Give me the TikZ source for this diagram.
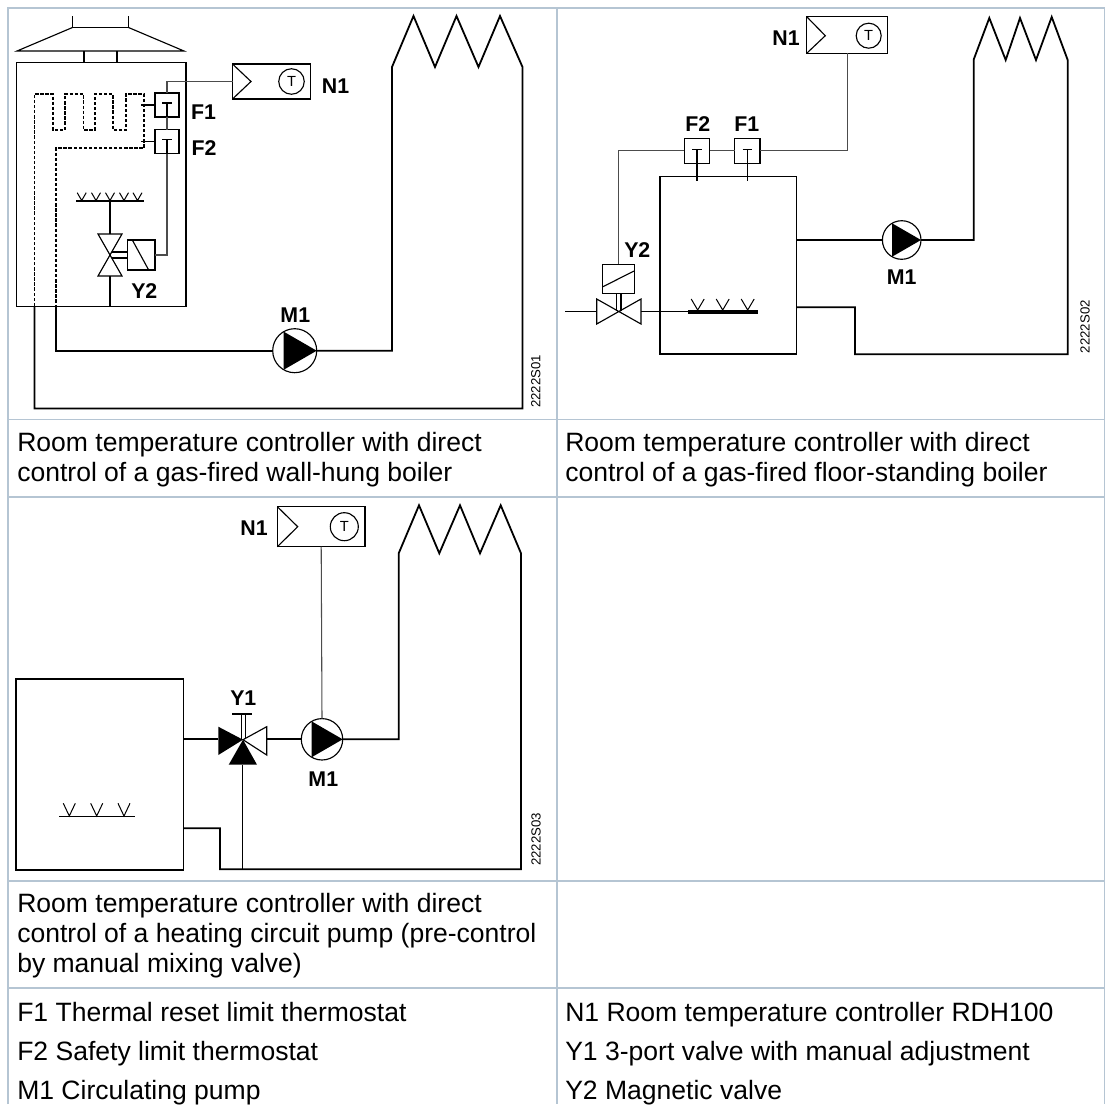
\documentclass[tikz,border=0pt]{standalone}
\usepackage{fontspec}
\usetikzlibrary{calc}
\setmainfont{Liberation Sans}
\definecolor{rulecol}{HTML}{B5C5D3}
\tikzset{
    rule/.style={draw=rulecol, line width=1.3pt},
    line/.style={draw=black, line width=0.85pt},
    pipe/.style={draw=black, line width=1.35pt},
    signal/.style={draw=black!70, line width=0.8pt},
    flame/.style={draw=black, line width=0.75pt},
    flue/.style={draw=black, line width=0.95pt, dash pattern=on 2.5pt off 1.3pt},
    boxsize/.style 2 args={minimum width=#1*0.75pt, minimum height=#2*0.75pt},
    plainbox/.style={line, rectangle, inner sep=0pt, outer sep=0pt, fill=white},
    pump/.style={line, circle, inner sep=0pt, outer sep=0pt, fill=white, minimum size=#1*0.75pt},
    sensor/.style={line, circle, inner sep=0pt, outer sep=0pt, minimum size=#1*0.75pt, font=\fontsize{11}{11}\selectfont},
    tag/.style={inner sep=0pt, font=\fontsize{16}{16}\selectfont\bfseries},
    code/.style={inner sep=0pt, rotate=90, font=\fontsize{9.9}{10}\selectfont},
    caption/.style={inner sep=0pt, anchor=north west, align=left, font=\fontsize{19.9}{22.5}\selectfont},
}
\begin{document}
\begin{tikzpicture}[x=0.75pt,y=-0.75pt]
    \useasboundingbox (0,0) rectangle (1107,1104);

    % table rules
    \draw[rule] (8,1104) -- (8,8) -- (1104.5,8) -- (1104.5,1104);
    \draw[rule] (556.7,8) -- (556.7,1104);
    \foreach \y in {419.5,497,881,988}
        \draw[rule] (8,\y) -- (1104.5,\y);

    % wall-hung boiler
    \draw[line] (72.5,16) -- (72.5,27.5) -- (128.5,27.5) -- (128.5,16);
    \draw[line] (72.5,27.5) -- (17,51) -- (184,51) -- (128.5,27.5);
    \node[plainbox, boxsize={169.5}{244}] (boilerA) at (101.25,184.5) {};
    \draw[line] (84,51) -- (84,62.5);
    \draw[line] (117,51) -- (117,62.5);

    \node[plainbox, boxsize={78}{35}] (ctrlA) at (271.5,81.5) {};
    \draw[line] (ctrlA.north west) -- (251,81.5) -- (ctrlA.south west);
    \node[sensor=25.5] (roomA) at (291.5,81.5) {T};
    \node[tag] (labelNA) at (335.5,85.7) {N1};

    \node[plainbox, boxsize={24}{24}] (limitA) at (167,105) {};
    \node[plainbox, boxsize={24}{24}] (safetyA) at (167,141.5) {};
    \node[tag] (labelFA) at (203.5,112.4) {F1};
    \node[tag] (labelFB) at (204,148.3) {F2};
    \node[plainbox, boxsize={27.5}{30}] (coilA) at (141.25,255) {};
    \draw[line] (132.7,240.7) -- (148.3,269.3);
    \node[tag] (labelYA) at (144.3,291) {Y2};

    \draw[signal] (ctrlA.west) -| (limitA.north);
    \draw[signal] (limitA.south) -- (safetyA.north);
    \draw[signal] (safetyA.south) |- (coilA.east);
    \foreach \n in {limitA,safetyA} {
        \draw[line] ($(\n.center)+(-4.7,-2)$) -- ($(\n.center)+(4.7,-2)$);
        \draw[line] ($(\n.center)+(0,-2)$) -- (\n.south);
    }
    \draw[line] (141,105) -- (limitA.west);
    \draw[line] (141,141.5) -- (safetyA.west);

    \draw[flue] (34.5,306) -- (34.5,94) -- (53,94) -- (53,130) -- (65,130) -- (65,94) -- (83.5,94) -- (83.5,130)
        -- (95,130) -- (95,94) -- (113,94) -- (113,130) -- (126,130) -- (126,94) -- (144,94) -- (144,148) -- (56,148) -- (56,306);

    \draw[line] (76,201) -- (144,201);
    \foreach \x in {81.7,96,110,124,137.5}
        \draw[flame] (\x-4.5,192.7) -- (\x,200.5) -- (\x+4.5,192.7);
    \draw[line] (98,234) -- (122,234) -- (98,276) -- (122,276) -- cycle;
    \draw[line] (110,201) -- (110,234);
    \draw[line] (110,276) -- (110,306.5);
    \draw[line] (112,252) -- (127.5,252);
    \draw[line] (112,258) -- (127.5,258);

    \node[pump=44] (pumpA) at (294.7,350.7) {};
    \node[tag] (labelMA) at (295.3,315) {M1};
    \coordinate (flowA) at (56,306.5);
    \coordinate (returnA) at (34.5,306.5);
    \draw[pipe] (flowA) |- (pumpA.west);
    \draw[pipe] (pumpA.east) -| (392,67) -- (413.5,16) -- (435,67) -- (456.5,16) -- (478.5,67) -- (500,16) -- (522.5,67)
        |- (34.5,408.5) -- (returnA);
    \node[code] (codeA) at (535.8,381.5) {2222S01};

    % floor-standing boiler
    \node[plainbox, boxsize={136.7}{177.3}] (boilerB) at (728.3,265.3) {};
    \node[plainbox, boxsize={81}{36.6}] (ctrlB) at (847.2,35) {};
    \draw[line] (ctrlB.north west) -- (825.3,35.7) -- (ctrlB.south west);
    \node[sensor=25] (roomB) at (868.7,35.7) {T};
    \node[tag] (labelNB) at (786,38) {N1};

    \node[plainbox, boxsize={25.3}{25}] (limitB) at (747.3,150.8) {};
    \node[plainbox, boxsize={25.3}{25}] (safetyB) at (697,150.8) {};
    \node[tag] (labelFC) at (746.7,124) {F1};
    \node[tag] (labelFD) at (697.7,124) {F2};
    \node[plainbox, boxsize={31.6}{29}] (coilB) at (618.5,278.8) {};
    \draw[line] (603,286.7) -- (634,271);
    \node[tag] (labelYB) at (637.3,250) {Y2};

    \draw[signal] (ctrlB.south) |- (limitB.east);
    \draw[signal] (limitB.west) -- (safetyB.east);
    \draw[signal] (safetyB.west) -| (coilB.north);
    \foreach \n in {limitB,safetyB} {
        \draw[line] ($(\n.center)+(-4.7,-1.3)$) -- ($(\n.center)+(4.7,-1.3)$);
        \draw[line] ($(\n.center)+(0,-1.3)$) -- ($(\n.center)+(0,30)$);
    }

    \draw[line] (596.7,299) -- (641,324) -- (641,299) -- (596.7,324) -- cycle;
    \draw[line] (616.5,293.3) -- (616.5,311);
    \draw[line] (621,293.3) -- (621,311);
    \draw[line] (565,311.5) -- (596.7,311.5);
    \draw[line] (641,311.5) -- (688.3,311.5);
    \draw[draw=black, line width=2.7pt] (688.3,311.7) -- (757.7,311.7);
    \foreach \x in {697.7,722.7,747.7}
        \draw[flame] (\x-6.5,299) -- (\x,310) -- (\x+6.5,299);

    \node[pump=38.6] (pumpB) at (901.7,240) {};
    \node[tag] (labelMB) at (901.7,277.5) {M1};
    \draw[pipe] (boilerB.east |- pumpB.west) -- (pumpB.west);
    \draw[pipe] (pumpB.east) -| (973.7,59.5) -- (989.3,18) -- (1005.7,60) -- (1020,18) -- (1036,60) -- (1051.7,17) -- (1067.7,60)
        |- (855,354.3) |- (796.7,307.3);
    \node[code] (codeB) at (1085,326.7) {2222S02};

    % heating circuit pump
    \node[plainbox, boxsize={167.3}{191}] (boilerC) at (99.7,774.5) {};
    \node[plainbox, boxsize={87.7}{40}] (ctrlC) at (321.2,526.7) {};
    \draw[line] (ctrlC.north west) -- (297.7,526.7) -- (ctrlC.south west);
    \node[sensor=28] (roomC) at (344.3,526.7) {T};
    \node[tag] (labelNC) at (254,528.3) {N1};

    \draw[line] (59,816.7) -- (134.7,816.7);
    \foreach \x in {69.3,96.7,124}
        \draw[flame] (\x-6,803.3) -- (\x,816) -- (\x+6,803.3);

    \draw[line] (232.3,714) -- (251.7,714);
    \draw[line] (241.3,714) -- (241.3,739);
    \draw[line] (245.7,714) -- (245.7,739);
    \fill (218.3,726.7) -- (243,739.7) -- (218.3,755) -- cycle;
    \draw[line] (266.7,726.7) -- (243,739.7) -- (266.7,755) -- cycle;
    \fill (243,739.7) -- (228.7,764.7) -- (257,764.7) -- cycle;
    \node[tag] (labelYC) at (243.3,698) {Y1};

    \node[pump=41.4] (pumpC) at (322,739.3) {};
    \node[tag] (labelMC) at (323.3,778.7) {M1};
    \draw[signal] (ctrlC.south) -- (pumpC.north);
    \draw[pipe] (boilerC.east |- pumpC.west) -- (218.3,739.3);
    \draw[pipe] (266.7,739.3) -- (pumpC.west);
    \draw[pipe] (pumpC.east) -| (398.7,553.3) -- (419,505.3) -- (439.3,553.3) -- (460,505.3) -- (480,553.3) -- (500.7,505.3) -- (521,553.3)
        |- (220,869.3) |- (183.3,828.3);
    \draw[line] (242.3,869.3) -- (242.3,764.7);
    \node[code] (codeC) at (536,839.3) {2222S03};

    \foreach \p in {pumpA,pumpB,pumpC}
        \fill (\p.east) -- (\p.120) -- (\p.240) -- cycle;

    % captions and legend
    \node[caption] (capA) at (17,432) {Room temperature controller with direct\\control of a gas-fired wall-hung boiler};
    \node[caption] (capB) at (565,432) {Room temperature controller with direct\\control of a gas-fired floor-standing boiler};
    \node[caption] (capC) at (17,893) {Room temperature controller with direct\\control of a heating circuit pump (pre-control\\by manual mixing valve)};
    \node[caption] (legF1) at (17,1001.5) {F1 Thermal reset limit thermostat};
    \node[caption] (legF2) at (17,1040.5) {F2 Safety limit thermostat};
    \node[caption] (legM1) at (17,1079.5) {M1 Circulating pump};
    \node[caption] (legN1) at (565,1001.5) {N1 Room temperature controller RDH100};
    \node[caption] (legY1) at (565,1040.5) {Y1 3-port valve with manual adjustment};
    \node[caption] (legY2) at (565,1079.5) {Y2 Magnetic valve};
\end{tikzpicture}
\end{document}
